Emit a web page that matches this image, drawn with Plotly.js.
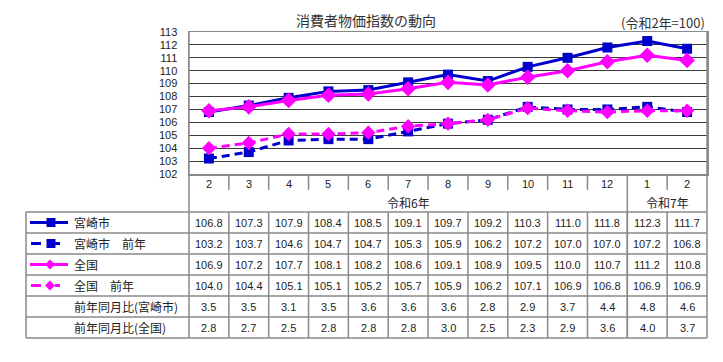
<!DOCTYPE html>
<html>
<head>
<meta charset="utf-8">
<script src="https://cdn.plot.ly/plotly-3.0.1.min.js"></script>
<style>
  html, body { margin: 0; padding: 0; background: #fff; }
  #chart { width: 723px; height: 362px; }
</style>
</head>
<body>
<div id="chart"></div>
<script>
// ---- data ----
const months = ['2','3','4','5','6','7','8','9','10','11','12','1','2'];
const eraLabels = ['令和6年', '令和7年'];
const eraStart = [0, 11];
const eraEnd = [10, 12];
const seriesNames = ['宮崎市', '宮崎市\u3000前年', '全国', '全国\u3000前年'];
const miyazaki = [106.8,107.3,107.9,108.4,108.5,109.1,109.7,109.2,110.3,111.0,111.8,112.3,111.7];
const miyazakiPrev = [103.2,103.7,104.6,104.7,104.7,105.3,105.9,106.2,107.2,107.0,107.0,107.2,106.8];
const national = [106.9,107.2,107.7,108.1,108.2,108.6,109.1,108.9,109.5,110.0,110.7,111.2,110.8];
const nationalPrev = [104.0,104.4,105.1,105.1,105.2,105.7,105.9,106.2,107.1,106.9,106.8,106.9,106.9];
const yoyLabels = ['前年同月比(宮崎市)', '前年同月比(全国)'];
const yoyMiyazaki = [3.5,3.5,3.1,3.5,3.6,3.6,3.6,2.8,2.9,3.7,4.4,4.8,4.6];
const yoyNational = [2.8,2.7,2.5,2.8,2.8,2.8,3.0,2.5,2.3,2.9,3.6,4.0,3.7];
const chartTitle = '消費者物価指数の動向';
const baseNote = '(令和2年=100)';

// ---- styling / geometry ----
const BLUE = '#0000CC', PINK = '#FF00FF';
const FONT = 'Liberation Sans, Arial, "Noto Sans CJK JP", sans-serif';
const JFONT = '"Noto Sans CJK JP", sans-serif';
const L = 189, R = 707, T = 32, B = 174;
const W = R - L, H = B - T;
const px = p => (p - L) / W;
const py = p => (B - p) / H;
const idx = months.map((_, i) => i);

const styles = [
  {color: BLUE, dash: 'solid', symbol: 'square', size: 10},
  {color: BLUE, dash: '8px,5px', symbol: 'square', size: 10},
  {color: PINK, dash: 'solid', symbol: 'diamond', size: 12},
  {color: PINK, dash: '8px,5px', symbol: 'diamond', size: 11}
];
const seriesData = [miyazaki, miyazakiPrev, national, nationalPrev];

const traces = seriesData.map((d, k) => ({
  type: 'scatter', mode: 'lines+markers', x: idx, y: d, name: seriesNames[k],
  line: {color: styles[k].color, width: 3, dash: styles[k].dash},
  marker: {symbol: styles[k].symbol, size: styles[k].size, color: styles[k].color},
  hoverinfo: 'skip', cliponaxis: false
}));

const annotations = [];
const shapes = [];
const GRID = '#8a8a8a';

// title & note
annotations.push({xref: 'paper', yref: 'paper', x: px(366), y: py(20), text: chartTitle, showarrow: false,
  font: {family: JFONT, size: 14, color: '#333'}, xanchor: 'center', yanchor: 'middle'});
annotations.push({xref: 'paper', yref: 'paper', x: px(707), y: py(22), text: baseNote, showarrow: false,
  font: {family: JFONT, size: 13, color: '#333'}, xanchor: 'right', yanchor: 'middle'});

// header: month numbers
months.forEach((m, i) => annotations.push({xref: 'x', yref: 'paper', x: i, y: py(184), text: m,
  showarrow: false, font: {family: FONT, size: 11, color: '#222'}, xanchor: 'center', yanchor: 'middle'}));
// header: era labels
eraLabels.forEach((e, k) => annotations.push({xref: 'x', yref: 'paper', x: (eraStart[k] + eraEnd[k]) / 2, y: py(202), text: e,
  showarrow: false, font: {family: JFONT, size: 12, color: '#222'}, xanchor: 'center', yanchor: 'middle'}));

// header separators
for (let i = 0; i < months.length - 1; i++) {
  const isEra = eraStart.includes(i + 1);
  shapes.push({type: 'line', xref: 'x', yref: 'paper', x0: i + 0.5, x1: i + 0.5, y0: py(174), y1: py(isEra ? 338 : 190),
    line: {color: GRID, width: 1.5}});
}

// data table rows
const rowY = [222.5, 243.5, 264.5, 285.5, 306.5, 327.5];
const rowLines = [212, 233, 254, 275, 296, 317, 338];
const tableRows = [miyazaki, miyazakiPrev, national, nationalPrev, yoyMiyazaki, yoyNational];
const rowLabels = seriesNames.concat(yoyLabels);
tableRows.forEach((row, r) => {
  row.forEach((v, i) => annotations.push({xref: 'x', yref: 'paper', x: i, y: py(rowY[r]), text: v.toFixed(1),
    showarrow: false, font: {family: FONT, size: 11, color: '#222'}, xanchor: 'center', yanchor: 'middle'}));
  annotations.push({xref: 'paper', yref: 'paper', x: px(72), y: py(rowY[r]), text: rowLabels[r],
    showarrow: false, font: {family: JFONT, size: 12, color: '#222'}, xanchor: 'left', yanchor: 'middle'});
});
rowLines.forEach(y => shapes.push({type: 'line', xref: 'paper', yref: 'paper', x0: px(26), x1: px(707), y0: py(y), y1: py(y),
  line: {color: GRID, width: 1.5}}));
for (let i = 0; i < months.length - 1; i++) {
  shapes.push({type: 'line', xref: 'x', yref: 'paper', x0: i + 0.5, x1: i + 0.5, y0: py(212), y1: py(338),
    line: {color: GRID, width: 1.5}});
}
shapes.push({type: 'line', xref: 'paper', yref: 'paper', x0: px(26), x1: px(26), y0: py(212), y1: py(338), line: {color: GRID, width: 1.5}});
shapes.push({type: 'line', xref: 'paper', yref: 'paper', x0: 0, x1: 0, y0: 1, y1: py(338), line: {color: GRID, width: 1.5}});
shapes.push({type: 'line', xref: 'paper', yref: 'paper', x0: 1, x1: 1, y0: 1, y1: py(338), line: {color: GRID, width: 1.5}});

// legend keys in table
styles.forEach((s, k) => {
  const yc = py(rowY[k]);
  if (s.dash === 'solid') {
    shapes.push({type: 'line', xref: 'paper', yref: 'paper', x0: px(30), x1: px(68), y0: yc, y1: yc, line: {color: s.color, width: 3}});
  } else {
    shapes.push({type: 'line', xref: 'paper', yref: 'paper', x0: px(31), x1: px(41), y0: yc, y1: yc, line: {color: s.color, width: 3}});
    shapes.push({type: 'line', xref: 'paper', yref: 'paper', x0: px(55), x1: px(60), y0: yc, y1: yc, line: {color: s.color, width: 3}});
  }
  const xa = px(s.symbol === 'square' ? 51 : 50);
  if (s.symbol === 'square') {
    shapes.push({type: 'rect', xref: 'paper', yref: 'paper', xsizemode: 'pixel', ysizemode: 'pixel', xanchor: xa, yanchor: yc,
      x0: -4.5, x1: 4.5, y0: -4.5, y1: 4.5, fillcolor: s.color, line: {width: 0}});
  } else {
    shapes.push({type: 'path', xref: 'paper', yref: 'paper', xsizemode: 'pixel', ysizemode: 'pixel', xanchor: xa, yanchor: yc,
      path: 'M0,5L5,0L0,-5L-5,0Z', fillcolor: s.color, line: {width: 0}});
  }
});

const layout = {
  width: 723, height: 362,
  margin: {l: L, r: 723 - R, t: T, b: 362 - B},
  paper_bgcolor: '#fff', plot_bgcolor: '#fff',
  showlegend: false,
  font: {family: FONT, size: 11, color: '#222'},
  xaxis: {range: [-0.5, 12.5], showticklabels: false, ticks: '', showgrid: false, zeroline: false,
    showline: true, mirror: true, linecolor: GRID, linewidth: 1.5, fixedrange: true},
  yaxis: {range: [102, 113], dtick: 1, tick0: 102, showgrid: true, gridcolor: '#3a3a3a', gridwidth: 1,
    zeroline: false, showline: true, mirror: true, linecolor: GRID, linewidth: 1.5, ticks: '',
    tickfont: {family: FONT, size: 11, color: '#222'}, ticklabelstandoff: 8, fixedrange: true},
  annotations: annotations,
  shapes: shapes
};

Plotly.newPlot('chart', traces, layout, {displayModeBar: false, staticPlot: true});
</script>
</body>
</html>
